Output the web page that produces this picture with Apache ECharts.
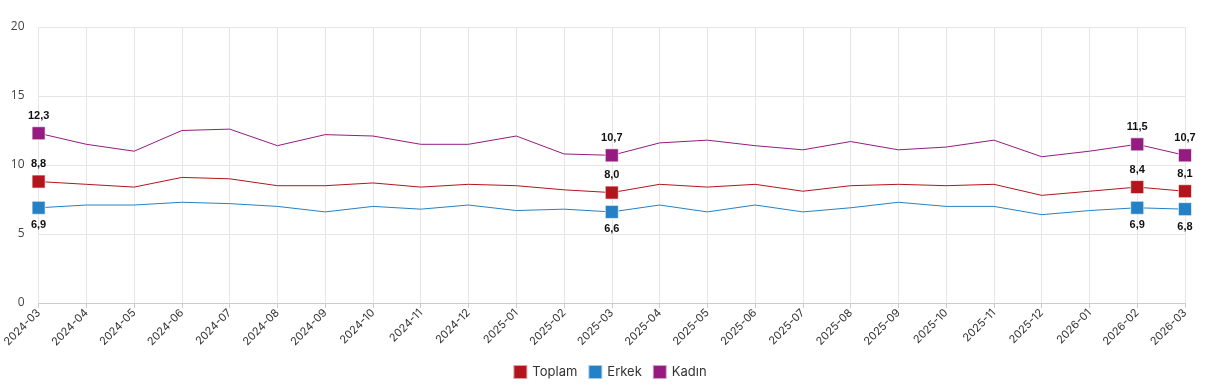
<!DOCTYPE html>
<html>
<head>
<meta charset="utf-8">
<script src="https://cdn.jsdelivr.net/npm/echarts@6/dist/echarts.min.js"></script>
<style>html,body{margin:0;padding:0;background:#fff}#c{width:1219px;height:386px}</style>
</head>
<body>
<div id="c"></div>
<script>
var categories = ['2024-03','2024-04','2024-05','2024-06','2024-07','2024-08','2024-09','2024-10','2024-11','2024-12','2025-01','2025-02','2025-03','2025-04','2025-05','2025-06','2025-07','2025-08','2025-09','2025-10','2025-11','2025-12','2026-01','2026-02','2026-03'];
var toplam = [8.8,8.6,8.4,9.1,9.0,8.5,8.5,8.7,8.4,8.6,8.5,8.2,8.0,8.6,8.4,8.6,8.1,8.5,8.6,8.5,8.6,7.8,8.1,8.4,8.1];
var erkek  = [6.9,7.1,7.1,7.3,7.2,7.0,6.6,7.0,6.8,7.1,6.7,6.8,6.6,7.1,6.6,7.1,6.6,6.9,7.3,7.0,7.0,6.4,6.7,6.9,6.8];
var kadin  = [12.3,11.5,11.0,12.5,12.6,11.4,12.2,12.1,11.5,11.5,12.1,10.8,10.7,11.6,11.8,11.4,11.1,11.7,11.1,11.3,11.8,10.6,11.0,11.5,10.7];
var labeledCategories = ['2024-03','2025-03','2026-02','2026-03'];
var yTicks = [0,5,10,15,20];

function fmt(v){ return v.toFixed(1).replace('.', ','); }
function build(arr, pos){
  return arr.map(function(v,i){
    if (labeledCategories.indexOf(categories[i]) >= 0) {
      return {value:v, symbol:'rect', symbolSize:13,
        label:{show:true, position:pos, distance:5, formatter:function(p){return fmt(p.value);},
          color:'#111', fontWeight:'bold', fontSize:11, fontFamily:'Liberation Sans, Arial, sans-serif'}};
    }
    return {value:v, symbol:'none'};
  });
}
var chart = echarts.init(document.getElementById('c'), null, {renderer:'canvas'});
var colors = ['#b2161c','#2581c6','#951b80'];
chart.setOption({
  animation:false,
  color: colors,
  grid:{left:38, right:34, top:27, bottom:83, containLabel:false},
  legend:{
    bottom:1, left:'center', icon:'rect', itemWidth:14, itemHeight:14, itemGap:10,
    textStyle:{color:'#333', fontSize:13, fontFamily:'Inter, Noto Sans, sans-serif'},
    data:['Toplam','Erkek','Kadın']
  },
  xAxis:{
    type:'category', data:categories, boundaryGap:false,
    axisLine:{lineStyle:{color:'#cccccc'}},
    axisTick:{show:true, alignWithLabel:true, lineStyle:{color:'#cccccc'}},
    splitLine:{show:true, lineStyle:{color:'#e6e6e6'}},
    axisLabel:{rotate:45, color:'#333', fontSize:11, interval:0, margin:8, fontFamily:'Inter, Noto Sans, sans-serif'}
  },
  yAxis:{
    type:'value', min:yTicks[0], max:yTicks[yTicks.length-1], interval:5,
    axisLine:{show:false}, axisTick:{show:false},
    splitLine:{lineStyle:{color:'#e6e6e6'}},
    axisLabel:{color:'#444', fontSize:12, margin:14, fontFamily:'Open Sans, Noto Sans, sans-serif'}
  },
  series:[
    {name:'Toplam', type:'line', data:build(toplam,'top'), showSymbol:true, lineStyle:{width:1}, itemStyle:{borderColor:'rgba(255,255,255,0.6)', borderWidth:1}, z:3},
    {name:'Erkek', type:'line', data:build(erkek,'bottom'), showSymbol:true, lineStyle:{width:1}, itemStyle:{borderColor:'rgba(255,255,255,0.6)', borderWidth:1}, z:2},
    {name:'Kadın', type:'line', data:build(kadin,'top'), showSymbol:true, lineStyle:{width:1}, itemStyle:{borderColor:'rgba(255,255,255,0.6)', borderWidth:1}, z:4}
  ]
});
</script>
</body>
</html>
